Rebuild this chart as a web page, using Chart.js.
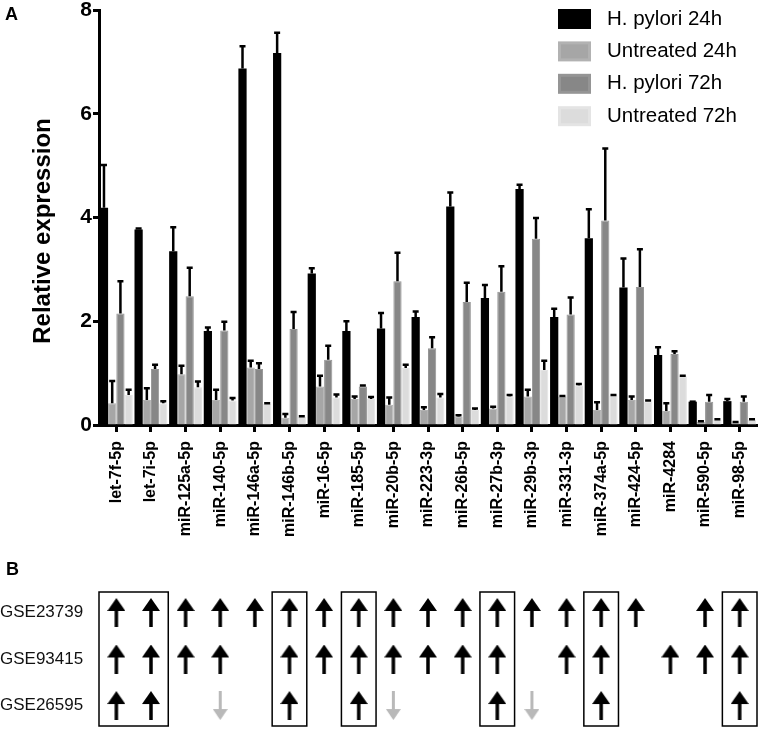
<!DOCTYPE html>
<html>
<head>
<meta charset="utf-8">
<script src="https://cdn.jsdelivr.net/npm/chart.js@4.4.0/dist/chart.umd.min.js"></script>
<style>
  html, body { margin: 0; padding: 0; background: #fff; }
  #wrap { position: relative; width: 765px; height: 730px; font-family: "Liberation Sans", Arial, sans-serif; }
  #chartA { position: absolute; left: 0; top: 0; }
  #chartB { position: absolute; left: 0; top: 560px; }
  .panel { position: absolute; font-weight: bold; font-size: 18px; line-height: 18px; }
</style>
</head>
<body>
<div id="wrap">
  <canvas id="chartA" width="765" height="560"></canvas>
  <canvas id="chartB" width="765" height="170"></canvas>
  <div class="panel" style="left:5px; top:5px;">A</div>
  <div class="panel" style="left:6px; top:560px;">B</div>
</div>

<script>
// miRNAs on the x axis
const mirnas = ['let-7f-5p', 'let-7i-5p', 'miR-125a-5p', 'miR-140-5p', 'miR-146a-5p', 'miR-146b-5p',
  'miR-16-5p', 'miR-185-5p', 'miR-20b-5p', 'miR-223-3p', 'miR-26b-5p', 'miR-27b-3p', 'miR-29b-3p',
  'miR-331-3p', 'miR-374a-5p', 'miR-424-5p', 'miR-4284', 'miR-590-5p', 'miR-98-5p'];

const seriesNames = ['H. pylori 24h', 'Untreated 24h', 'H. pylori 72h', 'Untreated 72h'];

// bar heights (relative expression)
const hp24 = [4.19, 3.77, 3.35, 1.81, 6.87, 7.17, 2.92, 1.81, 1.86, 2.08, 4.21, 2.45, 4.55, 2.08, 3.60, 2.65, 1.35, 0.45, 0.46];
const un24 = [0.42, 0.48, 0.98, 0.48, 1.11, 0.14, 0.74, 0.50, 0.39, 0.29, 0.16, 0.32, 0.55, 0.55, 0.29, 0.48, 0.27, 0.06, 0.05];
const hp72 = [2.15, 1.08, 2.48, 1.82, 1.08, 1.85, 1.26, 0.74, 2.77, 1.48, 2.37, 2.57, 3.59, 2.13, 3.94, 2.66, 1.37, 0.45, 0.45];
const un72 = [0.58, 0.42, 0.73, 0.47, 0.41, 0.16, 0.53, 0.50, 1.10, 0.53, 0.29, 0.55, 1.06, 0.76, 0.57, 0.45, 0.94, 0.10, 0.10];

// upper error (SD)
const hp24Err = [0.82, 0.02, 0.46, 0.07, 0.43, 0.39, 0.10, 0.19, 0.30, 0.11, 0.27, 0.25, 0.08, 0.16, 0.56, 0.56, 0.15, 0.00, 0.04];
const un24Err = [0.43, 0.23, 0.16, 0.20, 0.13, 0.07, 0.21, 0.05, 0.14, 0.05, 0.03, 0.03, 0.13, 0.01, 0.15, 0.07, 0.15, 0.01, 0.01];
const hp72Err = [0.62, 0.08, 0.55, 0.17, 0.11, 0.33, 0.27, 0.02, 0.55, 0.21, 0.37, 0.49, 0.40, 0.33, 1.39, 0.73, 0.05, 0.13, 0.10];
const un72Err = [0.10, 0.04, 0.11, 0.05, 0.01, 0.01, 0.06, 0.04, 0.06, 0.07, 0.03, 0.03, 0.18, 0.03, 0.01, 0.02, 0.01, 0.01, 0.01];

const yTicks = [0, 2, 4, 6, 8];

// panel B: 1 = up, -1 = down, 0 = none
const gseNames = ['GSE23739', 'GSE93415', 'GSE26595'];
const gse23739 = [1, 1, 1, 1, 1, 1, 1, 1, 1, 1, 1, 1, 1, 1, 1, 1, 0, 1, 1];
const gse93415 = [1, 1, 1, 1, 0, 1, 1, 1, 1, 1, 1, 1, 0, 1, 1, 0, 1, 1, 1];
const gse26595 = [1, 1, 0, -1, 0, 1, 0, 1, -1, 0, 0, 1, -1, 0, 1, 0, 0, 0, 1];
const boxedGroups = [['let-7f-5p', 'let-7i-5p'], ['miR-146b-5p'], ['miR-185-5p'], ['miR-27b-3p'], ['miR-374a-5p'], ['miR-98-5p']];

Chart.defaults.font.family = '"Liberation Sans", Arial, sans-serif';
Chart.defaults.color = '#000';

const fills = ['#000000', '#a6a6a6', '#878787', '#dcdcdc'];
const borders = ['#000000', '#b2b2b2', '#959595', '#e4e4e4'];

// error bars drawn on top of each bar
const errorBars = {
  id: 'errorBars',
  afterDatasetsDraw(chart) {
    const ctx = chart.ctx;
    const y = chart.scales.y;
    ctx.save();
    ctx.strokeStyle = '#000';
    ctx.lineWidth = 2.5;
    chart.data.datasets.forEach((ds, di) => {
      const meta = chart.getDatasetMeta(di);
      meta.data.forEach((bar, i) => {
        const top = y.getPixelForValue(ds.data[i] + ds.errors[i]);
        ctx.beginPath();
        ctx.moveTo(bar.x, bar.y);
        ctx.lineTo(bar.x, top);
        ctx.moveTo(bar.x - 3, top);
        ctx.lineTo(bar.x + 3, top);
        ctx.stroke();
      });
    });
    ctx.restore();
  }
};

// legend inside the plot and rotated y title
const decor = {
  id: 'decor',
  afterDraw(chart) {
    const ctx = chart.ctx;
    ctx.save();
    chart.data.datasets.forEach((ds, i) => {
      const y = 9 + i * 32.4;
      ctx.fillStyle = ds.borderColor;
      ctx.fillRect(558, y, 33, 20);
      ctx.fillStyle = ds.backgroundColor;
      ctx.fillRect(561, y + 3, 27, 14);
      ctx.fillStyle = '#000';
      ctx.font = '20.5px "Liberation Sans", Arial, sans-serif';
      ctx.textBaseline = 'middle';
      ctx.fillText(ds.label, 607, y + 10);
    });
    ctx.translate(43, 231);
    ctx.rotate(-Math.PI / 2);
    ctx.font = 'bold 24px "Liberation Sans", Arial, sans-serif';
    ctx.textAlign = 'center';
    ctx.textBaseline = 'middle';
    ctx.fillText('Relative expression', 0, 0);
    ctx.restore();
  }
};

const seriesValues = [hp24, un24, hp72, un72];
const seriesErrors = [hp24Err, un24Err, hp72Err, un72Err];

new Chart(document.getElementById('chartA'), {
  type: 'bar',
  data: {
    labels: mirnas,
    datasets: seriesNames.map((name, i) => ({
      label: name,
      data: seriesValues[i],
      errors: seriesErrors[i],
      backgroundColor: fills[i],
      borderColor: borders[i],
      borderWidth: i === 0 ? 0 : 1,
      barPercentage: 1.0,
      categoryPercentage: 0.95
    }))
  },
  options: {
    responsive: false,
    animation: false,
    events: [],
    layout: { autoPadding: false, padding: { left: 0, right: 8, top: 10, bottom: 0 } },
    plugins: { legend: { display: false }, tooltip: { enabled: false } },
    scales: {
      x: {
        offset: true,
        ticks: { autoSkip: false, minRotation: 90, maxRotation: 90, padding: 9,
          font: { size: 16, weight: 'bold' }, color: '#000' },
        grid: { offset: false, drawOnChartArea: false, tickLength: 7, tickWidth: 3, tickColor: '#000' },
        border: { display: true, width: 3, color: '#000' },
        afterFit(s) { s.height = 135; s.paddingLeft = 0; s.paddingRight = 0; }
      },
      y: {
        min: 0,
        max: 8,
        afterBuildTicks(s) { s.ticks = yTicks.map(v => ({ value: v })); },
        ticks: { padding: 1, font: { size: 21, weight: 'bold' }, color: '#000' },
        grid: { drawOnChartArea: false, tickLength: 6, tickWidth: 3, tickColor: '#000' },
        border: { display: true, width: 3, color: '#000' },
        afterFit(s) { s.width = 99; s.paddingTop = 0; s.paddingBottom = 0; }
      }
    }
  },
  plugins: [errorBars, decor]
});

// arrow glyphs for panel B
function makeArrow(dir, color, w, h, headH, shaft) {
  const c = document.createElement('canvas');
  c.width = w;
  c.height = h;
  const g = c.getContext('2d');
  g.fillStyle = color;
  g.save();
  if (dir < 0) { g.translate(0, h); g.scale(1, -1); }
  g.beginPath();
  g.moveTo(w / 2, 0);
  g.lineTo(w, headH);
  g.lineTo(0, headH);
  g.closePath();
  g.fill();
  g.fillRect(w / 2 - shaft / 2, headH - 1, shaft, h - headH + 1);
  g.restore();
  return c;
}
const upArrow = makeArrow(1, '#000', 18, 29, 13, 3.5);
const downArrow = makeArrow(-1, '#b9b9b9', 15, 29, 11, 3);

const gseRows = [gse23739, gse93415, gse26595];
const upPts = [];
const downPts = [];
gseRows.forEach((row, r) => {
  row.forEach((v, c) => {
    if (v === 1) upPts.push({ x: mirnas[c], y: r + 1 });
    if (v === -1) downPts.push({ x: mirnas[c], y: r + 1 });
  });
});

const boxes = {
  id: 'boxes',
  afterDatasetsDraw(chart) {
    const ctx = chart.ctx;
    const xs = chart.scales.x;
    const area = chart.chartArea;
    const step = xs.getPixelForValue(1) - xs.getPixelForValue(0);
    ctx.save();
    ctx.strokeStyle = '#000';
    ctx.lineWidth = 1.5;
    boxedGroups.forEach(group => {
      const x1 = xs.getPixelForValue(mirnas.indexOf(group[0])) - step / 2;
      const x2 = xs.getPixelForValue(mirnas.indexOf(group[group.length - 1])) + step / 2;
      ctx.strokeRect(x1, area.top, x2 - x1, area.bottom - area.top);
    });
    ctx.restore();
  }
};

new Chart(document.getElementById('chartB'), {
  type: 'scatter',
  data: {
    labels: mirnas,
    datasets: [
      { data: upPts, pointStyle: upArrow, pointRadius: 10 },
      { data: downPts, pointStyle: downArrow, pointRadius: 10 }
    ]
  },
  options: {
    responsive: false,
    animation: false,
    events: [],
    layout: { autoPadding: false, padding: { left: 0, right: 8, top: 32, bottom: 4 } },
    plugins: { legend: { display: false }, tooltip: { enabled: false } },
    scales: {
      x: { type: 'category', offset: true, display: false },
      y: {
        type: 'linear',
        min: 0.56,
        max: 3.44,
        reverse: true,
        afterBuildTicks(s) { s.ticks = gseNames.map((n, i) => ({ value: i + 1 })); },
        ticks: { crossAlign: 'far', padding: 2, font: { size: 17 }, color: '#111',
          callback: v => gseNames[v - 1] },
        grid: { display: false },
        border: { display: false },
        afterFit(s) { s.width = 99; s.paddingTop = 0; s.paddingBottom = 0; }
      }
    }
  },
  plugins: [boxes]
});
</script>
</body>
</html>
